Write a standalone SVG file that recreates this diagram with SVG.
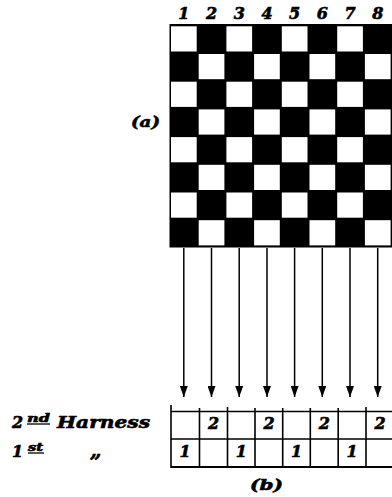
<svg xmlns="http://www.w3.org/2000/svg" width="392" height="497" viewBox="0 0 392 497">
<style>
.t{font-family:"DejaVu Serif","Liberation Serif",serif;font-weight:bold;font-style:italic;fill:#000;stroke:#000;stroke-width:0.6}
.w{fill:#fff}
.ln{stroke:#000;stroke-width:1.6;fill:none}
.ar{stroke:#000;stroke-width:1.5}
</style>
<defs>
<marker id="ah" viewBox="0 0 11 8" refX="11" refY="4" markerWidth="11" markerHeight="8" markerUnits="userSpaceOnUse" orient="auto">
<path d="M0,0 L11,4 L0,8 Z" fill="#000" stroke="none"/>
</marker>
</defs>
<rect width="392" height="497" fill="#fff"/>

<g id="col-numbers" class="t" font-size="16" text-anchor="middle">
<text x="183.8" y="19">1</text><text x="211.5" y="19">2</text><text x="239.2" y="19">3</text><text x="267" y="19">4</text>
<text x="294.6" y="19">5</text><text x="322.3" y="19">6</text><text x="350" y="19">7</text><text x="377.7" y="19">8</text>
</g>

<g id="label-a"><text class="t" x="131" y="127" font-size="15" textLength="29" lengthAdjust="spacingAndGlyphs">(a)</text></g>

<g id="grid-a">
<rect x="169.5" y="24" width="223" height="223.5" fill="#000"/>
<g class="w">
<rect x="171" y="26.3" width="25.7" height="25.2"/><rect x="226.4" y="26.3" width="25.7" height="25.2"/><rect x="281.8" y="26.3" width="25.7" height="25.2"/><rect x="337.2" y="26.3" width="25.7" height="25.2"/>
<rect x="198.7" y="54" width="25.7" height="25.2"/><rect x="254.1" y="54" width="25.7" height="25.2"/><rect x="309.5" y="54" width="25.7" height="25.2"/><rect x="364.9" y="54" width="25.7" height="25.2"/>
<rect x="171" y="81.7" width="25.7" height="25.2"/><rect x="226.4" y="81.7" width="25.7" height="25.2"/><rect x="281.8" y="81.7" width="25.7" height="25.2"/><rect x="337.2" y="81.7" width="25.7" height="25.2"/>
<rect x="198.7" y="109.4" width="25.7" height="25.2"/><rect x="254.1" y="109.4" width="25.7" height="25.2"/><rect x="309.5" y="109.4" width="25.7" height="25.2"/><rect x="364.9" y="109.4" width="25.7" height="25.2"/>
<rect x="171" y="137.1" width="25.7" height="25.2"/><rect x="226.4" y="137.1" width="25.7" height="25.2"/><rect x="281.8" y="137.1" width="25.7" height="25.2"/><rect x="337.2" y="137.1" width="25.7" height="25.2"/>
<rect x="198.7" y="164.8" width="25.7" height="25.2"/><rect x="254.1" y="164.8" width="25.7" height="25.2"/><rect x="309.5" y="164.8" width="25.7" height="25.2"/><rect x="364.9" y="164.8" width="25.7" height="25.2"/>
<rect x="171" y="192.5" width="25.7" height="25.2"/><rect x="226.4" y="192.5" width="25.7" height="25.2"/><rect x="281.8" y="192.5" width="25.7" height="25.2"/><rect x="337.2" y="192.5" width="25.7" height="25.2"/>
<rect x="198.7" y="220.2" width="25.7" height="25.2"/><rect x="254.1" y="220.2" width="25.7" height="25.2"/><rect x="309.5" y="220.2" width="25.7" height="25.2"/><rect x="364.9" y="220.2" width="25.7" height="25.2"/>
</g>
</g>

<g id="connectors" class="ar">
<line x1="183.8" y1="248" x2="183.8" y2="397" marker-end="url(#ah)"/>
<line x1="211.5" y1="248" x2="211.5" y2="397" marker-end="url(#ah)"/>
<line x1="239.2" y1="248" x2="239.2" y2="397" marker-end="url(#ah)"/>
<line x1="267" y1="248" x2="267" y2="397" marker-end="url(#ah)"/>
<line x1="294.6" y1="248" x2="294.6" y2="397" marker-end="url(#ah)"/>
<line x1="322.3" y1="248" x2="322.3" y2="397" marker-end="url(#ah)"/>
<line x1="350" y1="248" x2="350" y2="397" marker-end="url(#ah)"/>
<line x1="377.7" y1="248" x2="377.7" y2="397" marker-end="url(#ah)"/>
</g>

<g id="harness-labels" class="t">
<text x="12" y="428" font-size="16">2</text>
<text x="27" y="422" font-size="11" textLength="23" lengthAdjust="spacingAndGlyphs">nd</text>
<line x1="27" y1="424" x2="50" y2="424" stroke="#000" stroke-width="1.3"/>
<text x="57" y="428" font-size="16" textLength="93" lengthAdjust="spacingAndGlyphs">Harness</text>
<text x="12" y="457" font-size="16">1</text>
<text x="28" y="451" font-size="11" textLength="15" lengthAdjust="spacingAndGlyphs">st</text>
<line x1="28" y1="453" x2="44" y2="453" stroke="#000" stroke-width="1.3"/>
<text x="90" y="457" font-size="20">„</text>
</g>

<g id="table-b">
<path class="ln" d="M171,411.5 H392 M171,439 H392"/>
<path d="M171,467 H392" stroke="#000" stroke-width="2.2"/>
<path class="ln" d="M171,405 V468 M199.5,408 V467 M227.5,407 V467 M255,408 V467 M282.7,408 V467 M310.3,408 V467 M338.2,408 V467 M366,407 V467"/>
<g class="t" font-size="16" text-anchor="middle">
<text x="213.5" y="429">2</text><text x="269" y="429">2</text><text x="324.3" y="429">2</text><text x="380" y="429">2</text>
<text x="185" y="457">1</text><text x="241.3" y="457">1</text><text x="296.5" y="457">1</text><text x="352" y="457">1</text>
</g>
</g>

<g id="label-b"><text class="t" x="250" y="490" font-size="15" textLength="33" lengthAdjust="spacingAndGlyphs">(b)</text></g>
</svg>
